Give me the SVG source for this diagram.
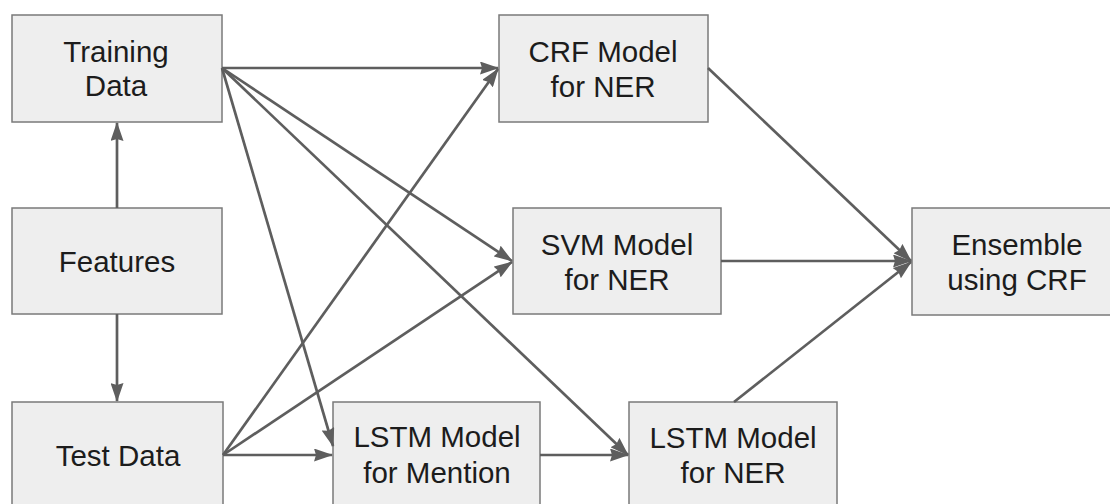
<svg xmlns="http://www.w3.org/2000/svg" width="1110" height="504" viewBox="0 0 1110 504">
<style>
.box{fill:#eeeeee;stroke:#7a7a7a;stroke-width:1.5}
.lbl{font-family:"Liberation Sans",Arial,sans-serif;font-size:29.5px;fill:#1c1c1c;text-anchor:middle}
.edge{stroke:#5e5e5e;stroke-width:2.7;fill:none;marker-end:url(#ah)}
</style>
<defs>
<marker id="ah" markerUnits="userSpaceOnUse" markerWidth="19" markerHeight="13" refX="18" refY="6.5" orient="auto">
<path d="M0,0 L19,6.5 L0,13 L2,6.5 Z" fill="#5e5e5e"/>
</marker>
</defs>
<rect width="1110" height="504" fill="#ffffff"/>
<g id="training">
<rect class="box" x="12" y="15" width="210" height="107"/>
<text class="lbl" x="116" y="62">Training</text>
<text class="lbl" x="116" y="96">Data</text>
</g>
<g id="features">
<rect class="box" x="12" y="208" width="210" height="106"/>
<text class="lbl" x="117" y="272">Features</text>
</g>
<g id="test">
<rect class="box" x="12" y="402" width="211" height="112"/>
<text class="lbl" x="118" y="466">Test Data</text>
</g>
<g id="crf">
<rect class="box" x="499" y="15" width="209" height="107"/>
<text class="lbl" x="603" y="62">CRF Model</text>
<text class="lbl" x="603" y="97">for NER</text>
</g>
<g id="svm">
<rect class="box" x="513" y="208" width="208" height="106"/>
<text class="lbl" x="617" y="255">SVM Model</text>
<text class="lbl" x="617" y="290">for NER</text>
</g>
<g id="ensemble">
<rect class="box" x="912" y="208" width="210" height="107"/>
<text class="lbl" x="1017" y="255">Ensemble</text>
<text class="lbl" x="1017" y="290">using CRF</text>
</g>
<g id="lstm-mention">
<rect class="box" x="333" y="402" width="207" height="112"/>
<text class="lbl" x="437" y="447">LSTM Model</text>
<text class="lbl" x="437" y="483">for Mention</text>
</g>
<g id="lstm-ner">
<rect class="box" x="629" y="402" width="208" height="112"/>
<text class="lbl" x="733" y="448">LSTM Model</text>
<text class="lbl" x="733" y="483">for NER</text>
</g>
<g id="connectors">
<path class="edge" d="M117 208 L117 123"/>
<path class="edge" d="M117 314 L117 401"/>
<path class="edge" d="M222 68 L498 68"/>
<path class="edge" d="M222 68 L512 261"/>
<path class="edge" d="M222 68 L333 446"/>
<path class="edge" d="M222 68 L628 455"/>
<path class="edge" d="M223 455 L498 69"/>
<path class="edge" d="M223 455 L512 262"/>
<path class="edge" d="M223 455 L332 455"/>
<path class="edge" d="M540 455 L628 455"/>
<path class="edge" d="M708 68 L911 261"/>
<path class="edge" d="M721 261 L911 261"/>
<path class="edge" d="M734 402 L911 262"/>
</g>
</svg>
